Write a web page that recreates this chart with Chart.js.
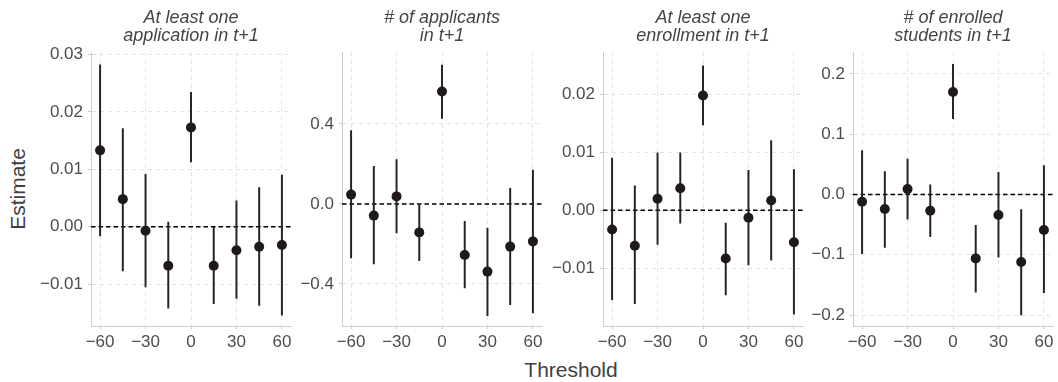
<!DOCTYPE html>
<html>
<head>
<meta charset="utf-8">
<script src="https://cdn.jsdelivr.net/npm/chart.js@4"></script>
<style>
  html, body { margin: 0; padding: 0; background: #fff; overflow: hidden; }
  body { width: 1058px; height: 382px; position: relative; font-family: "Liberation Sans", Arial, sans-serif; }
  .panel { position: absolute; top: 0; height: 382px; }
  .ytitle { position: absolute; left: 17px; top: 189px; transform: translate(-50%, -50%) rotate(-90deg);
            font-size: 21px; line-height: 1; color: #404040; white-space: nowrap; }
  .xtitle { position: absolute; left: 571px; top: 359px; transform: translateX(-50%);
            font-size: 21px; line-height: 1; color: #404040; white-space: nowrap; }
</style>
</head>
<body>
<div class="ytitle">Estimate</div>
<div class="xtitle">Threshold</div>
<div class="panel" id="p1"><canvas id="c1"></canvas></div>
<div class="panel" id="p2"><canvas id="c2"></canvas></div>
<div class="panel" id="p3"><canvas id="c3"></canvas></div>
<div class="panel" id="p4"><canvas id="c4"></canvas></div>
<script>
// data
const thresholds = [-60, -45, -30, -15, 0, 15, 30, 45, 60];
const xTicks = [-60, -30, 0, 30, 60];

const title1 = ["At least one", "application in t+1"];
const est1 = [0.0133, 0.0048, -0.0007, -0.0068, 0.0173, -0.0068, -0.0041, -0.0035, -0.0032];
const lo1 = [-0.0016, -0.0077, -0.0105, -0.0142, 0.0113, -0.0134, -0.0125, -0.0137, -0.0154];
const hi1 = [0.0282, 0.0171, 0.0091, 0.0008, 0.0234, 0.0, 0.0045, 0.0068, 0.009];
const yTicks1 = [-0.01, 0, 0.01, 0.02, 0.03];

const title2 = ["# of applicants", "in t+1"];
const est2 = [0.047, -0.058, 0.038, -0.142, 0.562, -0.255, -0.338, -0.213, -0.187];
const lo2 = [-0.27, -0.3, -0.145, -0.283, 0.428, -0.42, -0.558, -0.503, -0.545];
const hi2 = [0.367, 0.188, 0.222, 0.0, 0.695, -0.087, -0.12, 0.078, 0.17];
const yTicks2 = [-0.4, 0, 0.4];

const title3 = ["At least one", "enrollment in t+1"];
const est3 = [-0.0033, -0.0061, 0.002, 0.0038, 0.0198, -0.0083, -0.0013, 0.0017, -0.0055];
const lo3 = [-0.0154, -0.0161, -0.0059, -0.0022, 0.0147, -0.0146, -0.0094, -0.0086, -0.0179];
const hi3 = [0.009, 0.0042, 0.0099, 0.0099, 0.0249, -0.0022, 0.0069, 0.012, 0.007];
const yTicks3 = [-0.01, 0, 0.01, 0.02];

const title4 = ["# of enrolled", "students in t+1"];
const est4 = [-0.012, -0.024, 0.009, -0.027, 0.17, -0.106, -0.034, -0.112, -0.059];
const lo4 = [-0.098, -0.088, -0.041, -0.07, 0.126, -0.162, -0.104, -0.2, -0.163];
const hi4 = [0.073, 0.038, 0.059, 0.016, 0.216, -0.051, 0.037, -0.025, 0.048];
const yTicks4 = [-0.2, -0.1, 0, 0.1, 0.2];

// layout
const yAxisW = 60;
const plotW = 200;
const padRight = 12;
const xAxisH = 56;

Chart.defaults.font.family = '"Liberation Sans", Arial, sans-serif';

const minus = (s) => s.replace("-", "\u2212");

// dashed reference line at zero
const zeroLine = {
  id: "zeroLine",
  beforeDatasetsDraw(chart) {
    const { ctx, chartArea, scales } = chart;
    const y = scales.y.getPixelForValue(0);
    ctx.save();
    ctx.strokeStyle = "#000";
    ctx.lineWidth = 1.4;
    ctx.setLineDash([4.5, 3]);
    ctx.beginPath();
    ctx.moveTo(chartArea.left, y);
    ctx.lineTo(chartArea.right, y);
    ctx.stroke();
    ctx.restore();
  },
};

function makePanel(n, left, title, est, lo, hi, yTicks, dec, yMin, yMax) {
  const box = document.getElementById("p" + n);
  box.style.left = left - yAxisW + "px";
  box.style.width = yAxisW + plotW + padRight + "px";

  return new Chart(document.getElementById("c" + n), {
    type: "scatter",
    data: {
      datasets: [
        {
          type: "scatter",
          data: thresholds.map((x, i) => ({ x: x, y: est[i] })),
          backgroundColor: "#1f191a",
          borderWidth: 0,
          pointRadius: 5,
          order: 1,
        },
        {
          type: "bar",
          data: thresholds.map((x, i) => ({ x: x, y: [lo[i], hi[i]] })),
          backgroundColor: "#222",
          barThickness: 1.3,
          order: 2,
        },
      ],
    },
    options: {
      responsive: true,
      maintainAspectRatio: false,
      animation: false,
      events: [],
      layout: { padding: { top: 0, right: padRight, bottom: 0, left: 0 } },
      plugins: {
        legend: { display: false },
        tooltip: { enabled: false },
        title: {
          display: true,
          text: title,
          fullSize: false,
          color: "#454545",
          font: { size: 18, style: "italic", weight: "normal", lineHeight: 0.98 },
          padding: { top: 9.5, bottom: 7.4 },
        },
      },
      scales: {
        x: {
          type: "linear",
          min: -66,
          max: 66,
          offset: false,
          afterFit: (s) => { s.height = xAxisH; },
          afterBuildTicks: (s) => { s.ticks = xTicks.map((v) => ({ value: v })); },
          ticks: {
            color: "#4d4d4d",
            font: { size: 17 },
            padding: 3,
            maxRotation: 0,
            callback: (v) => minus(String(v)),
          },
          grid: {
            offset: false,
            color: "#e3e3e3",
            lineWidth: 1,
            tickLength: 3,
            tickColor: "#cccccc",
          },
          border: { display: true, color: "#cccccc", width: 1, dash: [4, 4] },
        },
        y: {
          type: "linear",
          min: yMin,
          max: yMax,
          afterFit: (s) => { s.width = yAxisW; },
          afterBuildTicks: (s) => { s.ticks = yTicks.map((v) => ({ value: v })); },
          ticks: {
            color: "#4d4d4d",
            font: { size: 17 },
            padding: 5,
            callback: (v) => minus(Number(v).toFixed(dec)),
          },
          grid: {
            color: "#e3e3e3",
            lineWidth: 1,
            tickLength: 3,
            tickColor: "#cccccc",
          },
          border: { display: true, color: "#cccccc", width: 1, dash: [4, 4] },
        },
      },
    },
    plugins: [zeroLine],
  });
}

makePanel(1, 91, title1, est1, lo1, hi1, yTicks1, 2, -0.0173, 0.0304);
makePanel(2, 341.5, title2, est2, lo2, hi2, yTicks2, 1, -0.61, 0.759);
makePanel(3, 602.5, title3, est3, lo3, hi3, yTicks3, 2, -0.01995, 0.02726);
makePanel(4, 853, title4, est4, lo4, hi4, yTicks4, 1, -0.2182, 0.2362);
</script>
</body>
</html>
